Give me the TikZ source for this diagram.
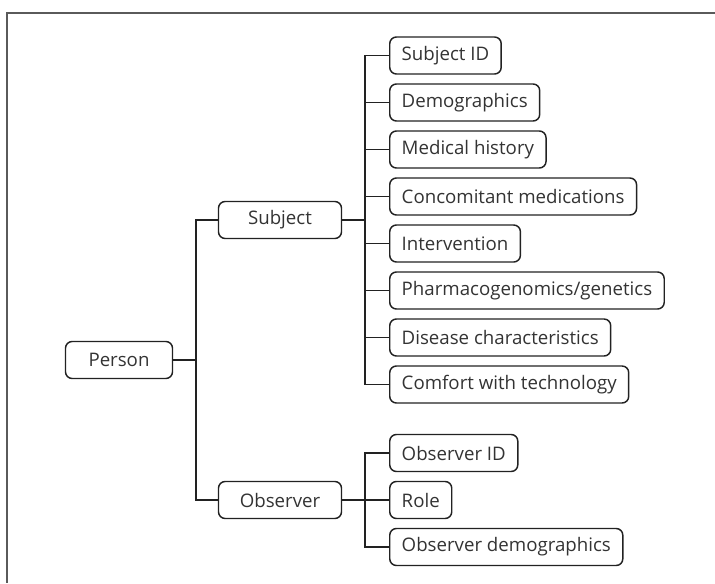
\documentclass[tikz,border=0pt]{standalone}
\usepackage{fontspec}
\setmainfont{Open Sans}
\usepackage{tikz}
\usetikzlibrary{positioning}

\definecolor{boxline}{HTML}{222222}
\definecolor{boxtext}{HTML}{333333}
\definecolor{framegray}{HTML}{5A5A5A}

\begin{document}
\begin{tikzpicture}[x=0.75pt,y=-0.75pt,line width=1.1pt,draw=boxline,
                    font=\fontsize{14}{16}\selectfont]
  \tikzstyle{every node}=[text=boxtext]
  \tikzstyle{box}=[draw=boxline,rounded corners=5pt,minimum height=27.75pt,
                   inner xsep=9pt]
  \tikzstyle{mid}=[box,minimum width=92.25pt]
  \tikzstyle{leaf}=[box,anchor=west]

  \useasboundingbox (0,0) rectangle (715,583);
  \draw[framegray,line width=1pt] (715,13) -- (7,13) -- (7,583);

  \node[box,minimum width=80.25pt] (person)   at (119,360) {Person};
  \node[mid]                       (subject)  at (280,220) {Subject};
  \node[mid]                       (observer) at (280,500) {Observer};

  \coordinate (pj) at (196,360);
  \coordinate (sj) at (365,220);
  \coordinate (oj) at (365,500);

  \draw (person) -- (pj);
  \draw (subject.west) -| (pj) |- (observer.west);
  \draw (subject) -- (sj);
  \draw (observer) -- (oj);

  \foreach \nm/\txt [count=\i] in {sid/Subject ID, demo/Demographics,
      hist/Medical history, meds/Concomitant medications,
      interv/Intervention, pgx/{Pharmacogenomics/genetics},
      disease/Disease characteristics, tech/Comfort with technology}
  {
    \node[leaf] (\nm) at (389,{55.5+47*(\i-1)}) {\txt};
    \draw (sj) |- (\nm.west);
  }

  \foreach \nm/\txt [count=\i] in {oid/Observer ID, role/Role,
      odemo/Observer demographics}
  {
    \node[leaf] (\nm) at (389,{453+47*(\i-1)}) {\txt};
    \draw (oj) |- (\nm.west);
  }
\end{tikzpicture}
\end{document}
